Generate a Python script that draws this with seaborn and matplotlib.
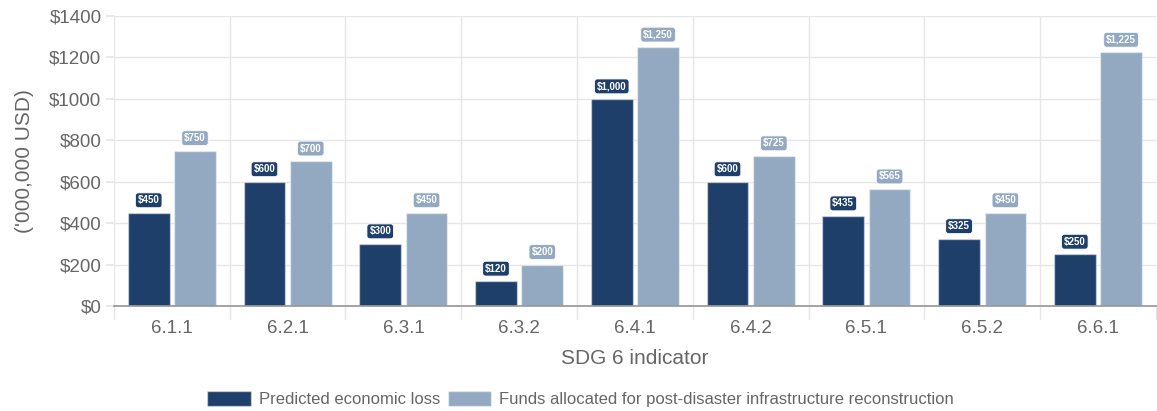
import pandas as pd
import matplotlib.pyplot as plt
import seaborn as sns

indicators = ['6.1.1', '6.2.1', '6.3.1', '6.3.2', '6.4.1', '6.4.2', '6.5.1', '6.5.2', '6.6.1']
predicted_loss = [450, 600, 300, 120, 1000, 600, 435, 325, 250]
funds_allocated = [750, 700, 450, 200, 1250, 725, 565, 450, 1225]
series_names = ['Predicted economic loss',
                'Funds allocated for post-disaster infrastructure reconstruction']
colors = ['#1f3f6b', '#93a9c1']

df = pd.DataFrame({
    'indicator': indicators * 2,
    'value': predicted_loss + funds_allocated,
    'series': [series_names[0]] * len(indicators) + [series_names[1]] * len(indicators),
})

sns.set_theme(style='white')
plt.rcParams['font.family'] = ['Liberation Sans', 'DejaVu Sans']

fig = plt.figure(figsize=(11.57, 4.11), dpi=100)
ax = fig.add_axes([0.0985, 0.2555, 0.9005, 0.7055])

sns.barplot(data=df, x='indicator', y='value', hue='series', palette=colors,
            width=0.8, gap=0.1, ax=ax, edgecolor=(1, 1, 1, 0.45), linewidth=1,
            saturation=1, legend=True)

# value labels in rounded boxes
for cont, col in zip(ax.containers, colors):
    for bar in cont:
        h = bar.get_height()
        ax.annotate(f'${h:,.0f}', (bar.get_x() + bar.get_width() / 2, h),
                    xytext=(0, 9), textcoords='offset points',
                    ha='center', va='center', fontsize=7, fontweight='bold',
                    color='white',
                    bbox=dict(boxstyle='round,pad=0.25,rounding_size=0.3',
                              fc=col, ec='white', lw=0.6))

ax.set_ylim(0, 1400)
ax.set_yticks(range(0, 1401, 200))
ax.set_yticklabels([f'${v}' for v in range(0, 1401, 200)])
ax.set_xlim(-0.5, len(indicators) - 0.5)

# gridlines between categories like the original
for b in [i - 0.5 for i in range(len(indicators) + 1)]:
    ax.axvline(b, color='#e6e6e6', lw=1, zorder=0)
    ax.plot([b, b], [0, -0.045], transform=ax.get_xaxis_transform(),
            color='#e6e6e6', lw=1, clip_on=False)
ax.yaxis.grid(True, color='#e6e6e6', lw=1)
ax.set_axisbelow(True)

sns.despine(ax=ax, left=True, top=True, right=True)
ax.spines['bottom'].set_color('#999999')
ax.tick_params(axis='x', length=0, pad=10, labelsize=13.5, labelcolor='#666666')
ax.tick_params(axis='y', length=6, color='#e6e6e6', pad=3, labelsize=13.5,
               labelcolor='#666666', left=True)

ax.set_xlabel('SDG 6 indicator', fontsize=15, color='#666666', labelpad=9)
ax.set_ylabel("('000,000 USD)", fontsize=15, color='#666666', labelpad=11)

ax.legend(loc='upper center', bbox_to_anchor=(0.448, -0.24), ncol=2, frameon=False,
          fontsize=12, labelcolor='#666666', handlelength=2.6, handleheight=1.05,
          handletextpad=0.5, columnspacing=0.45)

fig.savefig('out.png', dpi=100)
